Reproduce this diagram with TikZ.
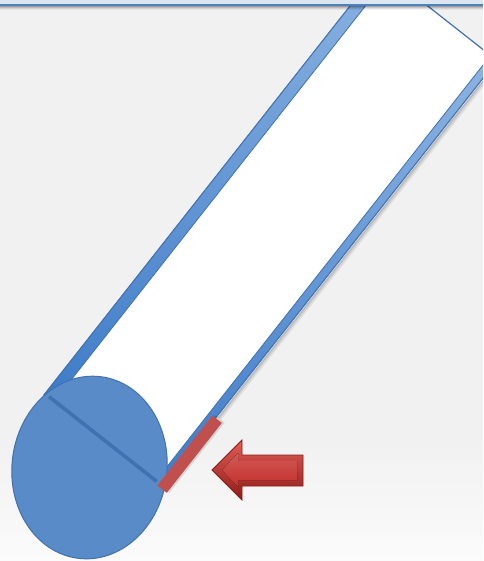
\documentclass[tikz,border=0pt]{standalone}
\definecolor{bggray}{RGB}{241,241,241}
\definecolor{bglight}{RGB}{251,251,251}
\definecolor{barblue}{RGB}{220,230,242}
\definecolor{lineblue}{RGB}{79,129,189}
\definecolor{edgeblue}{RGB}{65,113,176}
\definecolor{lightblue}{RGB}{141,180,226}
\definecolor{deepblue}{RGB}{62,124,200}
\definecolor{capblue}{RGB}{88,139,199}
\definecolor{padred}{RGB}{192,80,77}
\definecolor{arrowlight}{RGB}{226,92,86}
\definecolor{arrowdark}{RGB}{140,28,24}
\definecolor{arrowmid}{RGB}{196,48,44}
\tikzset{
  rail/.style={draw=edgeblue, line width=0.8pt, bottom color=deepblue, top color=lightblue},
  beamface/.style={fill=white, draw=edgeblue, line width=1.2pt},
  capface/.style={fill=capblue, draw=edgeblue, line width=1pt},
  padface/.style={fill=padred},
  pointer/.style={draw=arrowdark, line width=0.8pt, top color=arrowlight, bottom color=arrowdark},
  pointerface/.style={top color=arrowmid!80!white, bottom color=arrowmid}
}
\begin{document}
\begin{tikzpicture}[x=1pt, y=-1pt]
  \useasboundingbox (0,0) rectangle (483,561);
  \fill[bggray] (0,0) rectangle (483,561);
  \shade[top color=bggray, bottom color=bglight] (0,440) rectangle (483,561);

  \coordinate (beamfoot) at (44,395);
  \coordinate (capc) at (89.5,467.5);

  \begin{scope}
    \clip (0,0) rectangle (483,561);
    \begin{scope}[shift={(beamfoot)}, rotate=51.8]
      \foreach \d/\o in {151/0.22, 152.5/0.13, 154/0.06}
        \draw[line width=1.5pt, black, opacity=\o] (90,\d) -- (560,\d);
      \draw[beamface] (0,0) rectangle (543,149);
      \draw[rail] (0,0) rectangle (560,12);
      \draw[rail] (0,141) rectangle (543,149);
    \end{scope}
  \end{scope}

  \draw[capface, rotate around={-7:(capc)}] (capc) ellipse (77.5 and 91.5);

  \begin{scope}[shift={(beamfoot)}, rotate=51.8]
    \draw[edgeblue, line width=3.6pt] (1.8,5) -- (1.8,142);
    \fill[black, opacity=0.12] (1,147) rectangle (90,159);
    \fill[padface] (-1,145) rectangle (88,157);
  \end{scope}

  \draw[pointer] (212,470) -- (242,440) -- (242,455) -- (303,455)
    -- (303,486) -- (242,486) -- (242,500) -- cycle;
  \fill[pointerface] (222,470) -- (238,453) -- (238,461) -- (297,461)
    -- (297,480) -- (238,480) -- (238,487) -- cycle;

  \fill[barblue] (0,0) rectangle (483,5);
  \foreach \y/\o in {6.5/0.35, 7.5/0.22, 8.5/0.12, 9.5/0.05}
    \draw[black, opacity=\o, line width=1pt] (0,\y) -- (483,\y);
  \draw[lineblue, line width=1.6pt] (0,5) -- (483,5);
\end{tikzpicture}
\end{document}
